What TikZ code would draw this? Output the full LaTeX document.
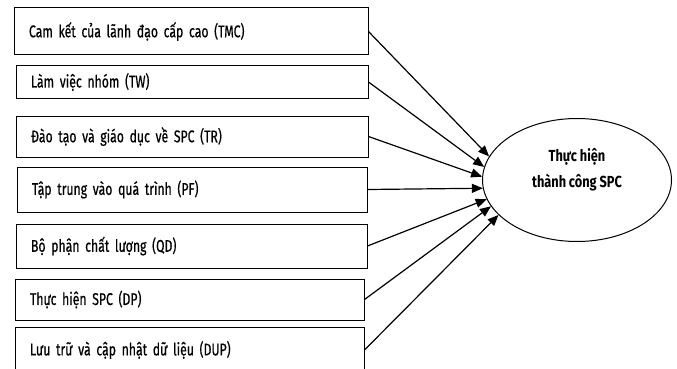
\documentclass[tikz,border=0pt]{standalone}
\usepackage{fontspec}
\setmainfont[FakeStretch=0.72,FakeBold=0.6]{Fira Sans}
\newfontfamily\outfont[FakeStretch=0.8]{Fira Sans}
\usetikzlibrary{shapes.geometric,arrows.meta}
\protected\def\tightwords{\spaceskip=2.8pt plus 1pt\relax}
\begin{document}
\begin{tikzpicture}[x=1pt,y=-1pt]
\tikzset{
  factor/.style={draw, line width=1pt, rectangle, inner xsep=15pt, inner ysep=0pt,
    align=left, font=\fontsize{17}{19}\selectfont\tightwords, anchor=center},
  link/.style={line width=1.2pt, -{Triangle[length=11pt,width=9pt]}},
  outcome/.style={draw, line width=1pt, ellipse, inner sep=0pt},
  outtext/.style={align=center, font=\outfont\bfseries\fontsize{16}{26}\selectfont\tightwords}
}
\useasboundingbox (0,0) rectangle (677,369);
\clip (0,0) rectangle (677,369);
\node[factor, minimum width=354pt, minimum height=47pt, text width=324pt] (tmc) at (191,31.5) {Cam kết của lãnh đạo cấp cao (TMC)};
\node[factor, minimum width=352pt, minimum height=32pt, text width=322pt] (tw) at (192,82) {Làm việc nhóm (TW)};
\node[factor, minimum width=352pt, minimum height=41pt, text width=322pt] (tr) at (192,136.5) {Đào tạo và giáo dục về SPC (TR)};
\node[factor, minimum width=350pt, minimum height=45pt, text width=320pt] (pf) at (192,189.5) {Tập trung vào quá trình (PF)};
\node[factor, minimum width=351pt, minimum height=44pt, text width=321pt] (qd) at (191.5,246) {Bộ phận chất lượng (QD)};
\node[factor, minimum width=349pt, minimum height=41pt, text width=319pt] (dp) at (189.5,299.5) {Thực hiện SPC (DP)};
\node[factor, minimum width=349pt, minimum height=46pt, text width=319pt] (dup) at (189.5,350) {Lưu trữ và cập nhật dữ liệu (DUP)};
\node[outcome, minimum width=189pt, minimum height=123pt] (spc) at (577,180) {};
\node[outtext] (spct) at (577,170) {Thực hiện\\thành công SPC};
\draw[link] (tmc.east) -- (spc.165);
\draw[link] (tw.east) -- (spc.172);
\draw[link] (tr.east) -- (spc.178);
\draw[link] (pf.east) -- (spc.185);
\draw[link] (qd.east) -- (spc.192);
\draw[link] (dp.east) -- (spc.197);
\draw[link] (dup.east) -- (spc.204);
\end{tikzpicture}
\end{document}
